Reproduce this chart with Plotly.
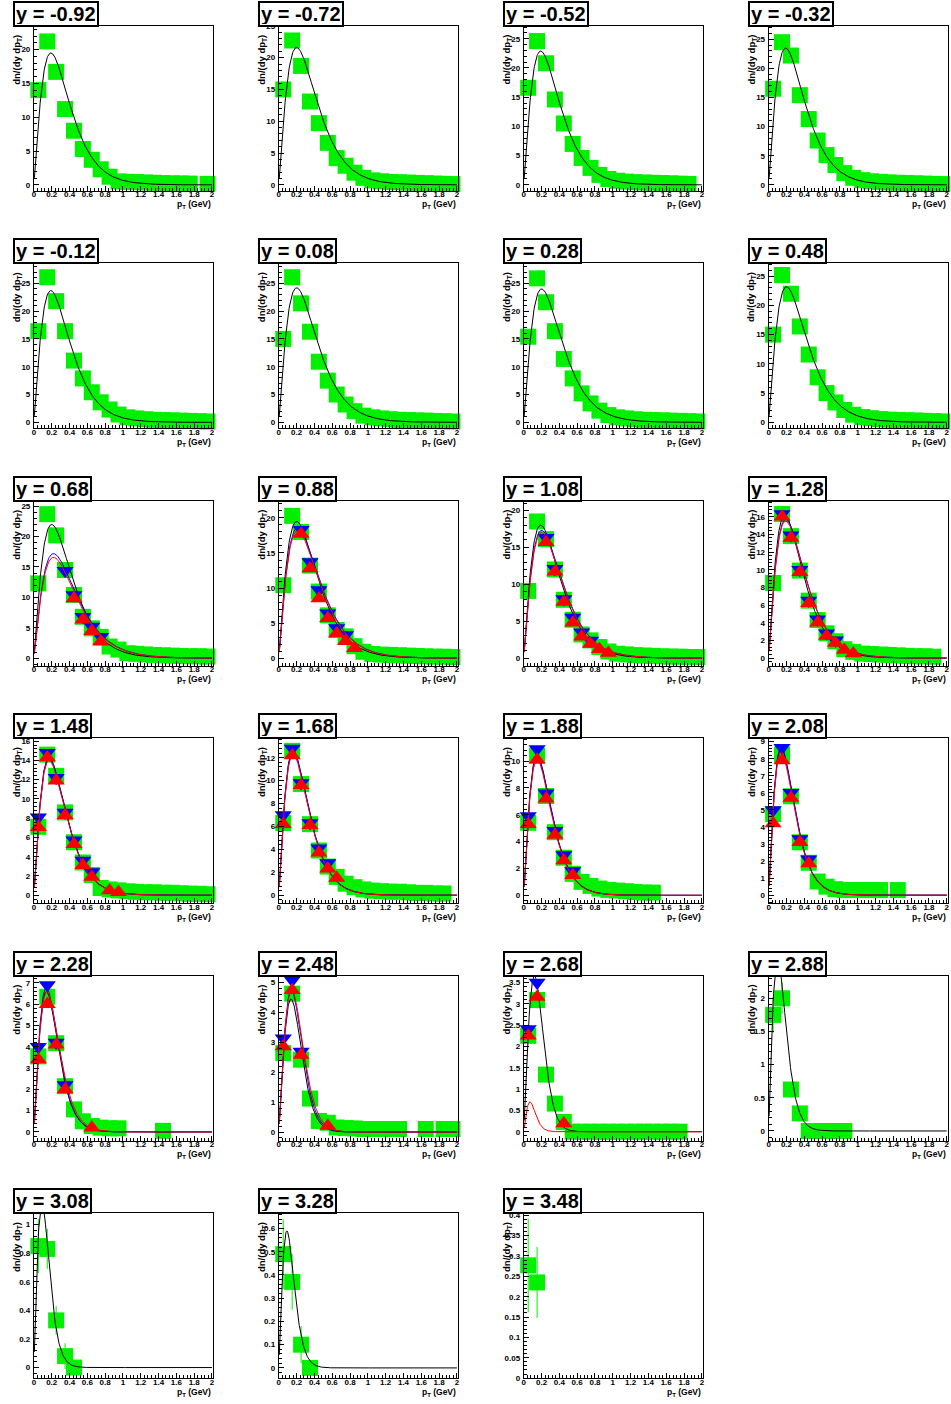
import numpy as np
import plotly.graph_objects as go

# Rapidity slices, one panel each (4 per row)
RAPIDITY = ["-0.92", "-0.72", "-0.52", "-0.32",
            "-0.12", "0.08", "0.28", "0.48",
            "0.68", "0.88", "1.08", "1.28",
            "1.48", "1.68", "1.88", "2.08",
            "2.28", "2.48", "2.68", "2.88",
            "3.08", "3.28", "3.48"]

# pT bin centres (GeV)
PT_BINS = [0.05, 0.15, 0.25, 0.35, 0.45, 0.55, 0.65, 0.75, 0.85, 0.95,
           1.05, 1.15, 1.25, 1.35, 1.45, 1.55, 1.65, 1.75, 1.85, 1.95]

N = None

# dn/(dy dpT), green data set (None = empty bin)
GREEN_DN = [
    [14.0, 21.2, 16.7, 11.2, 8.0, 5.3, 3.7, 2.3, 1.2, 0.5, 0.45, 0.4, 0.35, 0.3, 0.25, 0.22, 0.2, 0.18, N, 0.15],
    [15.0, 22.7, 18.7, 13.1, 9.7, 6.6, 4.2, 3.0, 1.9, 1.1, 0.7, 0.55, 0.45, 0.4, 0.35, 0.3, 0.25, 0.2, 0.15, 0.12],
    [16.6, 24.6, 20.8, 14.6, 10.5, 7.0, 4.6, 2.9, 1.7, 1.0, 0.7, 0.55, 0.45, 0.4, 0.35, 0.3, 0.25, 0.2, 0.15],
    [16.5, 24.5, 22.2, 15.4, 11.3, 7.6, 5.1, 3.4, 2.0, 1.2, 0.8, 0.6, 0.5, 0.4, 0.35, 0.3, 0.25, 0.2, 0.15, 0.12],
    [16.4, 26.1, 21.8, 16.4, 11.1, 7.9, 5.4, 3.6, 2.3, 1.4, 0.9, 0.7, 0.55, 0.45, 0.4, 0.35, 0.3, 0.25, 0.2, 0.15],
    [15.0, 26.1, 21.4, 16.3, 10.9, 7.5, 5.0, 3.2, 2.0, 1.2, 0.9, 0.7, 0.55, 0.45, 0.4, 0.35, 0.3, 0.25, 0.2, 0.15],
    [15.4, 25.9, 21.6, 16.4, 11.4, 7.9, 5.2, 3.4, 2.1, 1.3, 0.9, 0.7, 0.55, 0.45, 0.4, 0.35, 0.3, 0.25, 0.2, 0.15],
    [15.0, 25.2, 22.0, 16.4, 11.6, 7.7, 5.0, 3.4, 2.1, 1.3, 0.9, 0.7, 0.55, 0.45, 0.4, 0.35, 0.3, 0.25, 0.2, 0.15],
    [12.3, 23.7, 20.2, 14.5, 10.4, 6.8, 4.9, 3.5, 1.9, 1.4, 0.8, 0.7, 0.6, 0.5, 0.45, 0.4, 0.35, 0.3, 0.3, 0.25],
    [10.4, 20.3, 18.0, 13.2, 9.5, 6.1, 4.0, 3.1, 1.7, 0.9, 0.6, 0.5, 0.45, 0.4, 0.35, 0.3, 0.25, 0.2, 0.2, 0.15],
    [9.1, 18.5, 16.1, 12.0, 7.9, 5.2, 3.2, 2.4, 1.5, 0.9, 0.6, 0.5, 0.4, 0.35, 0.3, 0.25, 0.2, 0.2, 0.15, 0.15],
    [8.5, 16.3, 13.8, 9.9, 6.5, 4.3, 2.8, 1.9, 1.0, 0.7, 0.5, 0.45, 0.4, 0.35, 0.3, 0.25, 0.2, 0.2, 0.15],
    [7.1, 14.6, 12.4, 8.6, 5.5, 3.4, 2.1, 0.75, 0.6, 0.5, 0.4, 0.35, 0.3, 0.3, 0.25, 0.25, 0.2, 0.15, 0.15, 0.1],
    [6.3, 12.6, 9.7, 6.2, 3.9, 2.5, 1.6, 1.0, 0.7, 0.5, 0.4, 0.35, 0.3, 0.3, 0.25, 0.2, 0.2, 0.15, 0.15],
    [5.4, 10.4, 7.4, 4.7, 2.8, 1.6, 1.0, 0.7, 0.5, 0.4, 0.35, 0.3, 0.25, 0.2, 0.2],
    [4.75, 8.25, 5.8, 3.1, 1.9, 0.8, 0.5, 0.35, 0.3, 0.3, 0.3, 0.3, 0.3, N, 0.3],
    [3.55, 6.35, 4.17, 2.15, 1.06, 0.5, 0.28, 0.2, 0.17, 0.17, N, N, N, N, 0.05],
    [2.64, 4.63, 2.42, 1.12, 0.37, 0.31, 0.15, 0.13, 0.12, 0.1, 0.1, 0.1, 0.1, 0.1, N, N, 0.1, N, 0.1, 0.1],
    [2.25, 3.09, 1.34, 0.66, 0.23, 0.0, 0.0, 0.0, 0.0, 0.0, 0.0, 0.0, 0.0, 0.0, 0.0, 0.0, 0.0, 0.0],
    [1.75, 2.0, 0.625, 0.265, 0.0, 0.0, 0.0, 0.0, 0.0],
    [0.85, 0.83, 0.33, 0.08, 0.0],
    [0.49, 0.37, 0.10, 0.0],
    [0.277, 0.235],
]

# statistical errors of the green set (only where they stick out of the markers)
GREEN_ERR = [N] * 18 + [
    [0.2, 0.2, 0.12, 0.08, 0.05, 0.02, 0.02, 0.02, 0.02, 0.02, 0.02, 0.02, 0.02, 0.02, 0.02, 0.02, 0.02, 0.02],
    [0.27, 0.24, 0.1, 0.08, 0.03, 0.03, 0.03, 0.03, 0.03],
    [0.19, 0.14, 0.1, 0.09, 0.03],
    [0.15, 0.12, 0.08, 0.03],
    [0.115, 0.087],
]

# blue data set (downward triangles)
BLUE_DN = [N] * 8 + [
    [N, N, N, 14.4, 10.4, 6.8, 5.2, 3.5],
    [N, N, 18.3, 13.7, 9.7, 6.4, 4.3, 3.3],
    [N, N, 16.3, 12.1, 8.0, 5.5, 3.5, 2.4],
    [N, 16.3, 13.9, 10.0, 6.5, 4.4, 2.8, 2.0],
    [8.1, 14.8, 12.2, 8.6, 5.7, 3.6, 2.4],
    [7.0, 12.8, 9.8, 6.3, 4.1, 2.8],
    [5.9, 10.9, 7.6, 4.8, 3.0, 1.8],
    [5.0, 8.65, 6.0, 3.3, 2.1],
    [4.0, 6.9, 4.2, 2.2],
    [3.14, 5.08, 2.69],
    [2.41, 3.5],
    N, N, N, N,
]

# red data set (upward triangles)
RED_DN = [N] * 8 + [
    [N, N, N, N, 9.8, 6.3, 4.4, 2.7],
    [N, N, 17.7, 12.8, 8.5, 5.7, 3.5, 2.4, 1.4],
    [N, N, 15.7, 11.7, 7.6, 4.8, 2.9, 1.9, 1.2, 0.7],
    [N, 16.0, 13.6, 9.7, 6.2, 4.0, 2.5, 1.7, 0.9, 0.5],
    [7.05, 14.3, 11.9, 8.3, 5.3, 3.1, 1.9, N, 0.5, 0.3],
    [6.2, 12.2, 9.6, 6.1, 3.7, 2.3, 1.5],
    [5.3, 10.1, 7.2, 4.5, 2.6, 1.5],
    [4.2, 7.9, 5.7, 3.1, 1.85],
    [3.4, 6.0, 4.1, 2.0, N, N, 0.2],
    [2.86, 4.74, 2.58, N, N, 0.2],
    [2.25, 3.16, N, N, 0.19],
    N, N, N, N,
]

# thermal fits: (pT at maximum, maximum, effective mass) per panel
FIT_BLACK = [
    (0.19, 19.5, 0.14), (0.20, 21.6, 0.14), (0.19, 22.9, 0.14), (0.19, 23.5, 0.14),
    (0.19, 23.7, 0.14), (0.20, 24.2, 0.14), (0.20, 24.0, 0.14), (0.20, 23.2, 0.14),
    (0.20, 22.0, 0.14), (0.20, 19.5, 0.14), (0.19, 18.0, 0.14), (0.18, 16.2, 0.14),
    (0.17, 14.3, 0.14), (0.16, 12.6, 0.14), (0.15, 10.4, 0.14), (0.14, 8.6, 0.14),
    (0.14, 6.6, 0.20), (0.137, 4.45, 0.30), (0.12, 3.65, 0.30), (0.10, 2.6, 0.14),
    (0.09, 1.15, 0.14), (0.09, 0.59, 0.14), N,
]
FIT_BLUE = [N] * 8 + [
    (0.22, 17.2, 0.14), (0.21, 18.6, 0.14), (0.20, 17.3, 0.14), (0.19, 15.7, 0.14),
    (0.17, 14.2, 0.14), (0.16, 12.5, 0.14), (0.15, 10.3, 0.14), (0.14, 8.7, 0.14),
    (0.14, 6.8, 0.20), (0.14, 4.75, 0.30), N, N, N, N, N,
]
FIT_RED = [N] * 8 + [
    (0.22, 16.6, 0.14), (0.21, 18.2, 0.14), (0.20, 17.0, 0.14), (0.19, 15.5, 0.14),
    (0.17, 14.0, 0.14), (0.16, 12.3, 0.14), (0.15, 10.1, 0.14), (0.14, 8.4, 0.14),
    (0.145, 6.6, 0.20), (0.145, 4.75, 0.30), (0.07, 0.7, 0.14), N, N, N, N,
]

# vertical axis ranges and tick steps
Y_RANGE = [
    (-0.88, 23.5), (-0.94, 25.0), (-1.02, 27.2), (-1.03, 27.3),
    (-1.07, 28.6), (-1.07, 28.6), (-1.07, 28.6), (-1.02, 27.2),
    (-1.26, 25.9), (-1.09, 22.45), (-1.03, 21.3), (-0.87, 17.8),
    (-0.83, 16.3), (-0.70, 13.7), (-0.59, 11.7), (-0.47, 9.2),
    (-0.41, 7.34), (-0.29, 5.23), (-0.21, 3.66), (-0.146, 2.34),
    (-0.074, 1.08), (-0.044, 0.666), (0.0, 0.405),
]
Y_DTICK = [5, 5, 5, 5, 5, 5, 5, 5, 5, 5, 5, 2, 2, 2, 2, 1, 1, 1, 0.5, 0.5, 0.2, 0.1, 0.05]
Y_MINOR = [1, 1, 1, 1, 1, 1, 1, 1, 1, 1, 1, 0.4, 0.4, 0.4, 0.4, 0.2, 0.2, 0.2, 0.1, 0.1, 0.04, 0.02, 0.01]

GREEN = "#00f000"
BLUE = "#0000ff"
RED = "#ff0000"
FONT = "Liberation Sans"

W, H = 951, 1404
COL_STEP, ROW_STEP = 245.7, 239.0
FRAME_W, FRAME_H = 180.0, 166.0

PT_CURVE = np.linspace(0.005, 2.0, 400)


def thermal(pt, peak_pt, peak_dn, mass):
    """pT * exp(-mT/T) shape, normalised to its maximum."""
    mt_peak = np.hypot(peak_pt, mass)
    temp = peak_pt ** 2 / mt_peak
    mt = np.hypot(pt, mass)
    return peak_dn * (pt / peak_pt) * np.exp(-(mt - mt_peak) / temp)


def binned(values, errors=None):
    xs, ys, es = [], [], []
    for k, v in enumerate(values):
        if v is None:
            continue
        xs.append(PT_BINS[k])
        ys.append(v)
        if errors is not None:
            es.append(errors[k])
    return xs, ys, es


fig = go.Figure()
layout = {}
annotations = []
tickfont = dict(family=FONT, size=8, color="black", weight="bold")

for i, label in enumerate(RAPIDITY):
    row, col = divmod(i, 4)
    n = "" if i == 0 else str(i + 1)
    xa, ya = "x" + n, "y" + n
    left = 32 + COL_STEP * col
    top = 22 + ROW_STEP * row

    layout["xaxis" + n] = dict(
        domain=[left / W, (left + FRAME_W) / W], range=[0, 2.015], anchor=ya,
        showline=True, mirror=True, linecolor="black", linewidth=1,
        ticks="inside", ticklen=5, tickwidth=1, tickcolor="black",
        tick0=0, dtick=0.2, tickfont=tickfont, ticklabelstandoff=-4,
        minor=dict(ticks="inside", ticklen=3, tick0=0, dtick=0.04, tickcolor="black"),
        showgrid=False, zeroline=False,
    )
    layout["yaxis" + n] = dict(
        domain=[1 - (top + FRAME_H) / H, 1 - top / H], range=list(Y_RANGE[i]), anchor=xa,
        showline=True, mirror=True, linecolor="black", linewidth=1,
        ticks="inside", ticklen=5, tickwidth=1, tickcolor="black",
        tick0=0, dtick=Y_DTICK[i], tickfont=tickfont, ticklabelstandoff=1,
        minor=dict(ticks="inside", ticklen=3, tick0=0, dtick=Y_MINOR[i], tickcolor="black"),
        showgrid=False, zeroline=False,
    )

    # green points with their fit
    gx, gy, ge = binned(GREEN_DN[i], GREEN_ERR[i])
    fig.add_trace(go.Scatter(
        x=gx, y=gy, mode="markers", xaxis=xa, yaxis=ya, cliponaxis=False,
        marker=dict(symbol="square", size=16, color=GREEN, line=dict(width=0)),
        error_y=dict(type="data", array=ge, visible=bool(ge), color=GREEN, thickness=1, width=0),
    ))
    if FIT_BLACK[i] is not None:
        fig.add_trace(go.Scatter(
            x=PT_CURVE, y=thermal(PT_CURVE, *FIT_BLACK[i]), mode="lines",
            xaxis=xa, yaxis=ya, line=dict(color="black", width=1),
        ))

    # blue points with their fit
    if BLUE_DN[i] is not None:
        bx, by, _ = binned(BLUE_DN[i])
        fig.add_trace(go.Scatter(
            x=bx, y=by, mode="markers", xaxis=xa, yaxis=ya, cliponaxis=False,
            marker=dict(symbol="triangle-down", size=15, color=BLUE, line=dict(width=0)),
        ))
    if FIT_BLUE[i] is not None:
        fig.add_trace(go.Scatter(
            x=PT_CURVE, y=thermal(PT_CURVE, *FIT_BLUE[i]), mode="lines",
            xaxis=xa, yaxis=ya, line=dict(color=BLUE, width=1),
        ))

    # red points with their fit
    if RED_DN[i] is not None:
        rx, ry, _ = binned(RED_DN[i])
        fig.add_trace(go.Scatter(
            x=rx, y=ry, mode="markers", xaxis=xa, yaxis=ya, cliponaxis=False,
            marker=dict(symbol="triangle-up", size=15, color=RED, line=dict(width=0)),
        ))
    if FIT_RED[i] is not None:
        fig.add_trace(go.Scatter(
            x=PT_CURVE, y=thermal(PT_CURVE, *FIT_RED[i]), mode="lines",
            xaxis=xa, yaxis=ya, line=dict(color=RED, width=1),
        ))

    # panel title box
    annotations.append(dict(
        text="y = " + label, xref="paper", yref="paper",
        x=(11 + COL_STEP * col) / W, y=1 - (ROW_STEP * row - 3) / H,
        xanchor="left", yanchor="top", showarrow=False,
        font=dict(family=FONT, size=20, color="black", weight="bold"),
        bgcolor="white", bordercolor="black", borderwidth=2, borderpad=1, height=20,
    ))
    # axis titles
    annotations.append(dict(
        text="dn/(dy dp<sub>T</sub>)", xref="paper", yref="paper",
        x=(15 + COL_STEP * col) / W, y=1 - (29 + ROW_STEP * row) / H,
        xanchor="center", yanchor="top", textangle=-90, showarrow=False,
        font=dict(family=FONT, size=9.5, color="black", weight="bold"),
    ))
    annotations.append(dict(
        text="p<sub>T</sub> (GeV)", xref="paper", yref="paper",
        x=(left + FRAME_W) / W, y=1 - (202 + ROW_STEP * row) / H,
        xanchor="right", yanchor="middle", showarrow=False,
        font=dict(family=FONT, size=8.5, color="black", weight="bold"),
    ))

fig.update_layout(
    width=W, height=H, margin=dict(l=0, r=0, t=0, b=0),
    paper_bgcolor="white", plot_bgcolor="white", showlegend=False,
    annotations=annotations, **layout,
)

fig.write_html("out.html")
